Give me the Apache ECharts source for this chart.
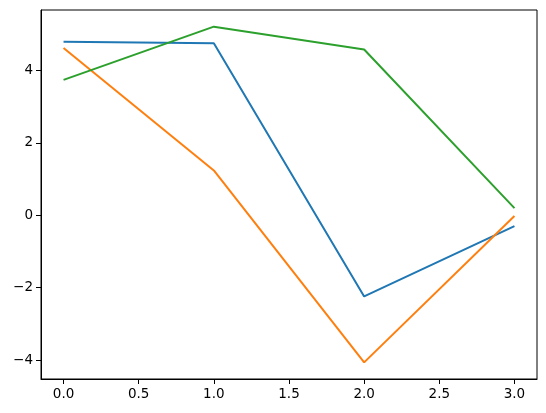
<!DOCTYPE html>
<html>
<head>
<meta charset="utf-8">
<script src="https://cdn.jsdelivr.net/npm/echarts@6/dist/echarts.min.js"></script>
<style>
  html, body { margin: 0; padding: 0; background: #fff; }
  #chart { width: 546px; height: 413px; }
</style>
</head>
<body>
<div id="chart"></div>
<script>
  // data
  var xValues = [0, 1, 2, 3]
  var blueValues = [4.79, 4.75, -2.24, -0.30]
  var orangeValues = [4.62, 1.24, -4.06, -0.02]
  var greenValues = [3.74, 5.21, 4.58, 0.20]
  var xTicks = [0, 0.5, 1, 1.5, 2, 2.5, 3]
  var yTicks = [-4, -2, 0, 2, 4]

  function pairs(ys) {
    return xValues.map(function (x, i) { return [x, ys[i]] })
  }

  var font = 'DejaVu Sans'
  var chart = echarts.init(document.getElementById('chart'))

  chart.setOption({
    animation: false,
    grid: {
      left: 41, top: 10, right: 9, bottom: 34,
      show: true, borderColor: '#000', borderWidth: 1
    },
    xAxis: {
      type: 'value',
      min: -0.15,
      max: 3.15,
      splitLine: { show: false },
      axisLine: { show: true, onZero: false, lineStyle: { color: '#000', width: 1 } },
      axisTick: { show: true, inside: false, length: 5, customValues: xTicks, lineStyle: { color: '#000' } },
      axisLabel: {
        customValues: xTicks,
        color: '#000', fontFamily: font, fontSize: 13.5, margin: 8,
        formatter: function (v) { return v.toFixed(1) }
      }
    },
    yAxis: {
      type: 'value',
      min: -4.52,
      max: 5.67,
      splitLine: { show: false },
      axisLine: { show: true, onZero: false, lineStyle: { color: '#000', width: 1 } },
      axisTick: { show: true, inside: false, length: 5, customValues: yTicks, lineStyle: { color: '#000' } },
      axisLabel: {
        customValues: yTicks,
        color: '#000', fontFamily: font, fontSize: 13.5, margin: 8,
        formatter: function (v) { return String(v).replace('-', '\u2212') }
      }
    },
    series: [
      { type: 'line', data: pairs(blueValues), showSymbol: false, lineStyle: { color: '#1f77b4', width: 2 } },
      { type: 'line', data: pairs(orangeValues), showSymbol: false, lineStyle: { color: '#ff7f0e', width: 2 } },
      { type: 'line', data: pairs(greenValues), showSymbol: false, lineStyle: { color: '#2ca02c', width: 2 } }
    ]
  })
</script>
</body>
</html>
